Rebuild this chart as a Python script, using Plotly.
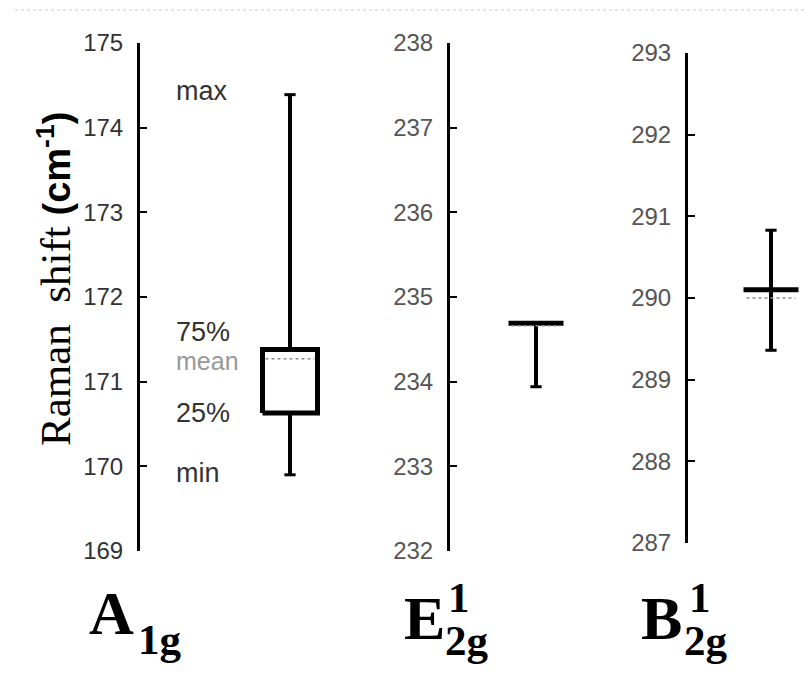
import plotly.graph_objects as go

# ---- data ----
mode_main = ["A", "E", "B"]
mode_sup = ["", "1", "1"]
mode_sub = ["1g", "2g", "2g"]
y_min = [169.90, 233.94, 289.36]
y_q1 = [170.63, 234.69, 290.10]
y_mean = [171.27, 234.66, 290.00]
y_q3 = [171.38, 234.69, 290.10]
y_max = [174.39, 234.69, 290.83]
y_ranges = [[169, 175], [232, 238], [287, 293]]
stat_labels = ["max", "75%", "mean", "25%", "min"]
y_title = "Raman shift"
y_unit = "(cm<sup>-1</sup>)"

# ---- layout geometry (pixels) ----
W, H = 804, 687
axis_px = [140, 450, 688]          # left edge (axis line) of each panel
right_px = [340, 620, 804]
ytop_px = [43, 43, 53]
ybot_px = [551, 551, 543]
box_center = [150, 86, 83]         # in panel x units (pixels from axis)
half_w = 27.5

fig = go.Figure()

for i in range(3):
    xa = "x" if i == 0 else f"x{i+1}"
    ya = "y" if i == 0 else f"y{i+1}"
    c = box_center[i]
    # whisker
    fig.add_trace(go.Scatter(
        x=[c, c], y=[y_min[i], y_max[i]], mode="lines+markers",
        line=dict(color="black", width=4),
        marker=dict(symbol="line-ew", size=8, line=dict(color="black", width=3)),
        xaxis=xa, yaxis=ya, showlegend=False, hoverinfo="skip"))
    # box
    fig.add_trace(go.Scatter(
        x=[c - half_w, c + half_w, c + half_w, c - half_w, c - half_w],
        y=[y_q1[i], y_q1[i], y_q3[i], y_q3[i], y_q1[i]],
        mode="lines", fill="toself", fillcolor="white",
        line=dict(color="black", width=5),
        xaxis=xa, yaxis=ya, showlegend=False, hoverinfo="skip"))
    # mean
    fig.add_trace(go.Scatter(
        x=[c - half_w + 3, c + half_w - 3], y=[y_mean[i], y_mean[i]],
        mode="lines", line=dict(color="#8a8a8a", width=1.5, dash="dot"),
        xaxis=xa, yaxis=ya, showlegend=False, hoverinfo="skip"))

axis_common = dict(showline=True, linecolor="black", linewidth=3,
                   ticks="inside", ticklen=7, tickwidth=2, tickcolor="black",
                   showgrid=False, zeroline=False, dtick=1,
                   ticklabelstandoff=9, automargin=False)

layout = dict(width=W, height=H, autosize=False,
              margin=dict(l=0, r=0, t=0, b=0, pad=0, autoexpand=False),
              paper_bgcolor="white", plot_bgcolor="white",
              showlegend=False, template="none")

for i in range(3):
    xkey = "xaxis" if i == 0 else f"xaxis{i+1}"
    ykey = "yaxis" if i == 0 else f"yaxis{i+1}"
    ya = "y" if i == 0 else f"y{i+1}"
    xa = "x" if i == 0 else f"x{i+1}"
    layout[xkey] = dict(domain=[axis_px[i] / W, right_px[i] / W],
                        range=[0, right_px[i] - axis_px[i]],
                        visible=False, anchor=ya, fixedrange=True,
                        automargin=False)
    layout[ykey] = dict(domain=[1 - ybot_px[i] / H, 1 - ytop_px[i] / H],
                        range=y_ranges[i], anchor=xa,
                        tickfont=dict(family="Liberation Sans", size=24,
                                      color="#333333" if i == 0 else "#555555"),
                        **axis_common)

fig.update_layout(**layout)

annotations = []
# stat labels in panel 1
label_vals = [y_max[0], y_q3[0], y_mean[0], y_q1[0], y_min[0]]
label_shift = [4, 17, -2, 0, 2]
label_color = ["#333333", "#333333", "#999999", "#333333", "#333333"]
label_size = [27, 27, 25, 27, 27]
for lab, v, s, col, sz in zip(stat_labels, label_vals, label_shift, label_color, label_size):
    annotations.append(dict(
        text=lab, x=35, y=v, xref="x", yref="y", xanchor="left", yanchor="middle",
        yshift=s, showarrow=False, borderpad=0,
        font=dict(family="Liberation Sans", size=sz, color=col)))

# y-axis title
annotations.append(dict(
    text=("<span style=\"font-family:Liberation Serif;font-weight:normal;font-size:43px\">"
          + y_title.replace(" ", "\u00a0\u00a0") + "\u00a0</span>"
          + "<b>" + y_unit + "</b>"),
    x=55 / W, y=1 - 279 / H, xref="paper", yref="paper",
    xanchor="center", yanchor="middle", textangle=-90, showarrow=False,
    font=dict(family="Liberation Sans", size=38, color="black")))

# mode labels at the bottom
main_left = [88, 403, 640]
main_center_y = [613, 618, 618]
sub_left = [137, 444, 683]
sub_center_y = [639, 640, 640]
sup_left = [447, 447, 688]
sup_center_y = [597, 597, 597]
for i in range(3):
    annotations.append(dict(
        text="<b>" + mode_main[i] + "</b>", x=main_left[i] / W, y=1 - main_center_y[i] / H,
        xref="paper", yref="paper", xanchor="left", yanchor="middle", showarrow=False,
        borderpad=0, font=dict(family="Liberation Serif", size=62, color="black")))
    annotations.append(dict(
        text="<b>" + mode_sub[i] + "</b>", x=sub_left[i] / W, y=1 - sub_center_y[i] / H,
        xref="paper", yref="paper", xanchor="left", yanchor="middle", showarrow=False,
        borderpad=0, font=dict(family="Liberation Serif", size=43, color="black")))
    if mode_sup[i]:
        annotations.append(dict(
            text="<b>" + mode_sup[i] + "</b>", x=sup_left[i] / W, y=1 - sup_center_y[i] / H,
            xref="paper", yref="paper", xanchor="left", yanchor="middle", showarrow=False,
            borderpad=0, font=dict(family="Liberation Serif", size=43, color="black")))

fig.update_layout(annotations=annotations)

# faint dotted border line at top
fig.add_shape(type="line", xref="paper", yref="paper",
              x0=15 / W, x1=1, y0=1 - 10 / H, y1=1 - 10 / H,
              line=dict(color="#c8c8c8", width=1, dash="dot"))

fig.write_html("out.html",
               config={"displayModeBar": False},
               post_script="document.body.style.margin='0';document.body.style.overflow='hidden';")
